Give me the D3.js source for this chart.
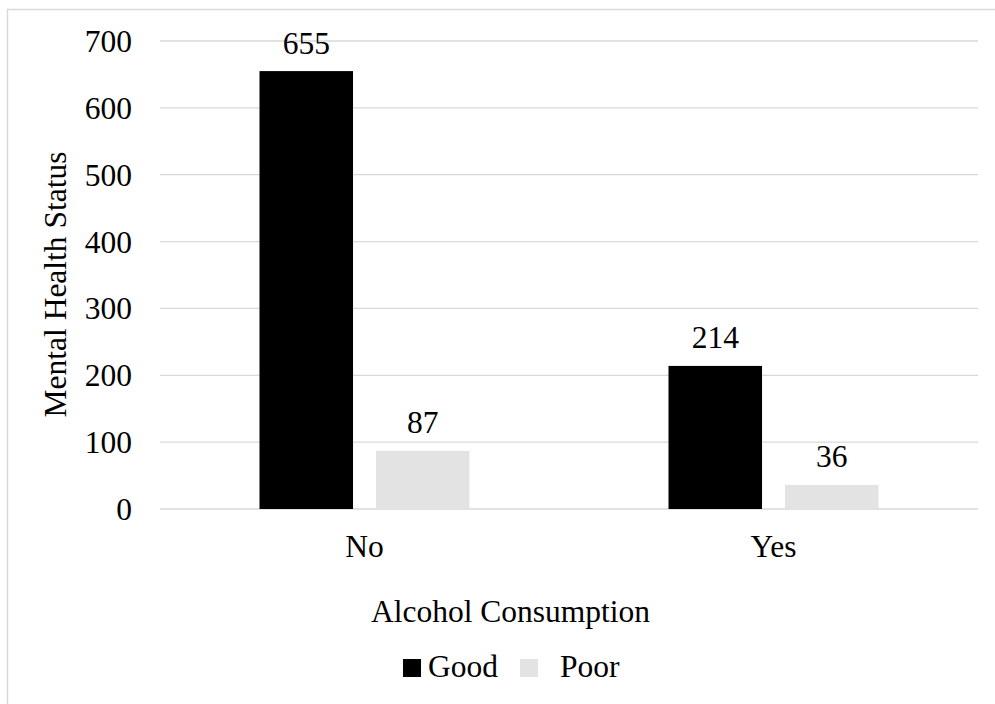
<!DOCTYPE html>
<html><head><meta charset="utf-8">
<script src="https://cdn.jsdelivr.net/npm/d3@7"></script>
<style>
html,body{margin:0;padding:0;background:#fff;}
svg{display:block;font-family:"Liberation Serif","Times New Roman",serif;}
</style></head>
<body>
<svg id="chart" width="995" height="704"></svg>
<script>
const categories = ["No", "Yes"];
const seriesNames = ["Good", "Poor"];
const goodValues = [655, 214];
const poorValues = [87, 36];
const yTicks = [0, 100, 200, 300, 400, 500, 600, 700];
const colors = {Good: "#000000", Poor: "#e3e3e3"};

(function () {
const svg = d3.select("#chart");
const plotL = 160, plotR = 978, plotT = 41, plotB = 509;
const fs = 31.5;

// frame
svg.append("rect").attr("x", 7.5).attr("y", 9.5).attr("width", 1100).attr("height", 800)
  .attr("fill", "none").attr("stroke", "#d9d9d9").attr("stroke-width", 1.5);

const y = d3.scaleLinear().domain([0, 700]).range([plotB, plotT]);
const x0 = d3.scaleBand().domain(categories).range([plotL, plotR]).padding(0);
const x1 = d3.scaleBand().domain(seriesNames).range([99.5, 309.5]).paddingInner(0.197).paddingOuter(0);

// gridlines
svg.append("g").selectAll("line").data(yTicks).join("line")
  .attr("x1", plotL).attr("x2", plotR)
  .attr("y1", d => y(d)).attr("y2", d => y(d))
  .attr("stroke", "#d9d9d9").attr("stroke-width", 1.3);

// y tick labels
svg.append("g").selectAll("text").data(yTicks).join("text")
  .attr("x", 132).attr("y", d => y(d) + 11)
  .attr("text-anchor", "end").attr("font-size", fs).attr("fill", "#000")
  .text(d => d);

const data = categories.map((c, i) => ({cat: c, vals: [
  {s: "Good", v: goodValues[i]}, {s: "Poor", v: poorValues[i]}]}));

const groups = svg.append("g").selectAll("g").data(data).join("g")
  .attr("transform", d => `translate(${x0(d.cat)},0)`);

groups.selectAll("rect").data(d => d.vals).join("rect")
  .attr("x", d => x1(d.s)).attr("width", x1.bandwidth())
  .attr("y", d => y(d.v)).attr("height", d => y(0) - y(d.v))
  .attr("fill", d => colors[d.s]);

groups.selectAll("text.lbl").data(d => d.vals).join("text").attr("class", "lbl")
  .attr("x", d => x1(d.s) + x1.bandwidth() / 2)
  .attr("y", d => y(d.v) - 17.5)
  .attr("text-anchor", "middle").attr("font-size", fs).attr("fill", "#000")
  .text(d => d.v);

// x category labels
svg.append("g").selectAll("text").data(categories).join("text")
  .attr("x", d => x0(d) + x0.bandwidth() / 2).attr("y", 557)
  .attr("text-anchor", "middle").attr("font-size", fs).attr("fill", "#000")
  .text(d => d);

// axis titles
svg.append("text").attr("x", 510.5).attr("y", 622)
  .attr("text-anchor", "middle").attr("font-size", fs).attr("fill", "#000")
  .text("Alcohol Consumption");

svg.append("text")
  .attr("transform", "translate(66,284.5) rotate(-90)")
  .attr("text-anchor", "middle").attr("font-size", fs).attr("fill", "#000")
  .text("Mental Health Status");

// legend
const legendPos = [{s: "Good", sx: 403, tx: 428}, {s: "Poor", sx: 520, tx: 560}];
const lg = svg.append("g");
lg.selectAll("rect").data(legendPos).join("rect")
  .attr("x", d => d.sx).attr("y", 659).attr("width", 18).attr("height", 18)
  .attr("fill", d => colors[d.s]);
lg.selectAll("text").data(legendPos).join("text")
  .attr("x", d => d.tx).attr("y", 677).attr("font-size", fs).attr("fill", "#000")
  .text(d => d.s);
})();
</script>
</body></html>
